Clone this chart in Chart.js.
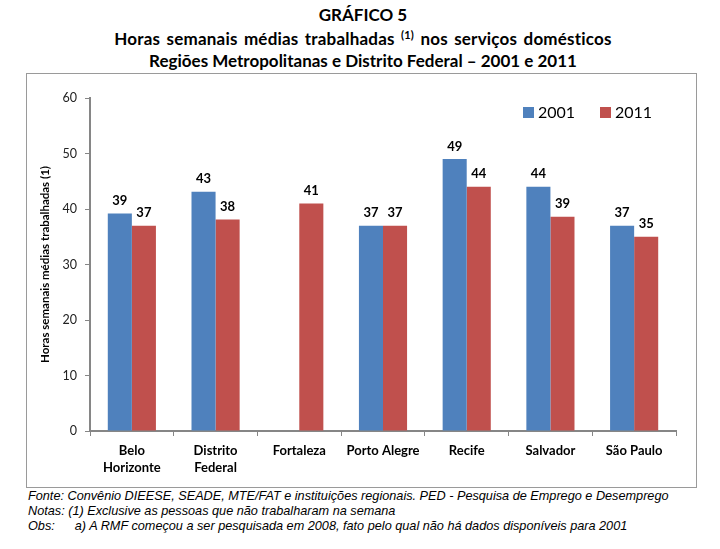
<!DOCTYPE html>
<html><head><meta charset="utf-8">
<script src="https://cdn.jsdelivr.net/npm/chart.js@4.4.0/dist/chart.umd.min.js"></script>
<style>
html,body{margin:0;padding:0;background:#fff;}
body{width:720px;height:549px;position:relative;overflow:hidden;font-family:Lato,"Open Sans",sans-serif;}
.t{position:absolute;left:0;width:726px;text-align:center;font-weight:bold;font-size:17px;color:#000;white-space:nowrap;}
.t sup{font-size:11px;vertical-align:6px;line-height:0;}
#box{position:absolute;left:26px;top:73px;width:669px;height:413px;border:1px solid #9a9a9a;}
canvas{position:absolute;left:0;top:0;}
.f{position:absolute;left:28px;font-family:"Liberation Sans",Arial,sans-serif;font-style:italic;font-size:12.7px;color:#000;white-space:nowrap;}
</style></head>
<body>
<div class="t" style="top:4px">GRÁFICO 5</div>
<div class="t" style="top:28px;word-spacing:2px;letter-spacing:0.2px">Horas semanais médias trabalhadas <sup>(1)</sup> nos serviços domésticos</div>
<div class="t" style="top:50px">Regiões Metropolitanas e Distrito Federal – 2001 e 2011</div>
<div id="box"><canvas id="c" width="669" height="413"></canvas></div>
<div class="f" style="top:489px">Fonte: Convênio DIEESE, SEADE, MTE/FAT e instituições regionais. PED - Pesquisa de Emprego e Desemprego</div>
<div class="f" style="top:504px">Notas: (1) Exclusive as pessoas que não trabalharam na semana</div>
<div class="f" style="top:519px">Obs:<span style="display:inline-block;width:20px"></span>a) A RMF começou a ser pesquisada em 2008, fato pelo qual não há dados disponíveis para 2001</div>
<script>
const categories = [["Belo","Horizonte"],["Distrito","Federal"],"Fortaleza","Porto Alegre","Recife","Salvador","São Paulo"];
const seriesNames = ["2001","2011"];
const values2001 = [39.2, 43.1, null, 37.0, 49.0, 44.0, 37.0];
const values2011 = [37.0, 38.1, 41.0, 37.0, 44.0, 38.6, 35.0];
const yTicks = [0,10,20,30,40,50,60];

const labelPlugin = {
  id:'barLabels',
  afterDatasetsDraw(chart){
    const ctx = chart.ctx;
    ctx.save();
    ctx.font = 'bold 13px Lato, sans-serif';
    ctx.fillStyle = '#000';
    ctx.textAlign = 'center';
    ctx.textBaseline = 'bottom';
    chart.data.datasets.forEach((ds,i)=>{
      const meta = chart.getDatasetMeta(i);
      meta.data.forEach((bar,j)=>{
        const v = ds.data[j];
        if(v==null) return;
        ctx.fillText(String(Math.round(v)), bar.x, bar.y - 6);
      });
    });
    ctx.restore();
  }
};

const legendPlugin = {
  id:'customLegend',
  afterDraw(chart){
    const ctx = chart.ctx;
    const area = chart.chartArea;
    ctx.save();
    ctx.font = '16px Lato, sans-serif';
    ctx.textBaseline = 'middle';
    ctx.textAlign = 'left';
    const y = area.top + 15;
    let x = area.right - 153;
    chart.data.datasets.forEach(ds=>{
      ctx.fillStyle = ds.backgroundColor;
      ctx.fillRect(x, y - 6, 11, 11);
      ctx.fillStyle = '#000';
      ctx.fillText(ds.label, x + 15, y);
      x += 77;
    });
    ctx.restore();
  }
};

new Chart(document.getElementById('c'), {
  type:'bar',
  data:{
    labels:categories,
    datasets:[
      {label:seriesNames[0], data:values2001, backgroundColor:'#4F81BD', barPercentage:1, categoryPercentage:0.575},
      {label:seriesNames[1], data:values2011, backgroundColor:'#C0504D', barPercentage:1, categoryPercentage:0.575}
    ]
  },
  options:{
    responsive:false,
    animation:false,
    devicePixelRatio:1,
    layout:{padding:{left:0,top:24,right:20,bottom:0}},
    plugins:{
      tooltip:{enabled:false},
      title:{display:false},
      legend:{display:false}
    },
    scales:{
      x:{
        grid:{display:true, drawOnChartArea:false, offset:true, tickLength:5, color:'#868686', lineWidth:1},
        border:{color:'#868686', width:2},
        ticks:{color:'#000', padding:7, maxRotation:0, autoSkip:false, font:{family:'Lato, sans-serif', size:13, weight:'bold', lineHeight:1.25}},
        afterFit(s){ s.height = 56; }
      },
      y:{
        min:0, max:60,
        afterBuildTicks(s){ s.ticks = yTicks.map(v=>({value:v})); },
        grid:{display:true, drawOnChartArea:false, tickLength:5, color:'#868686'},
        border:{color:'#868686', width:2},
        ticks:{color:'#222', padding:8, font:{family:'Lato, sans-serif', size:12.5}},
        title:{display:true, text:'Horas semanais médias trabalhadas (1)', color:'#000', padding:{top:11,bottom:0}, font:{family:'Lato, sans-serif', size:11.5, weight:'bold'}},
        afterFit(s){ s.width = 63; }
      }
    }
  },
  plugins:[labelPlugin, legendPlugin]
});
</script>
</body></html>
